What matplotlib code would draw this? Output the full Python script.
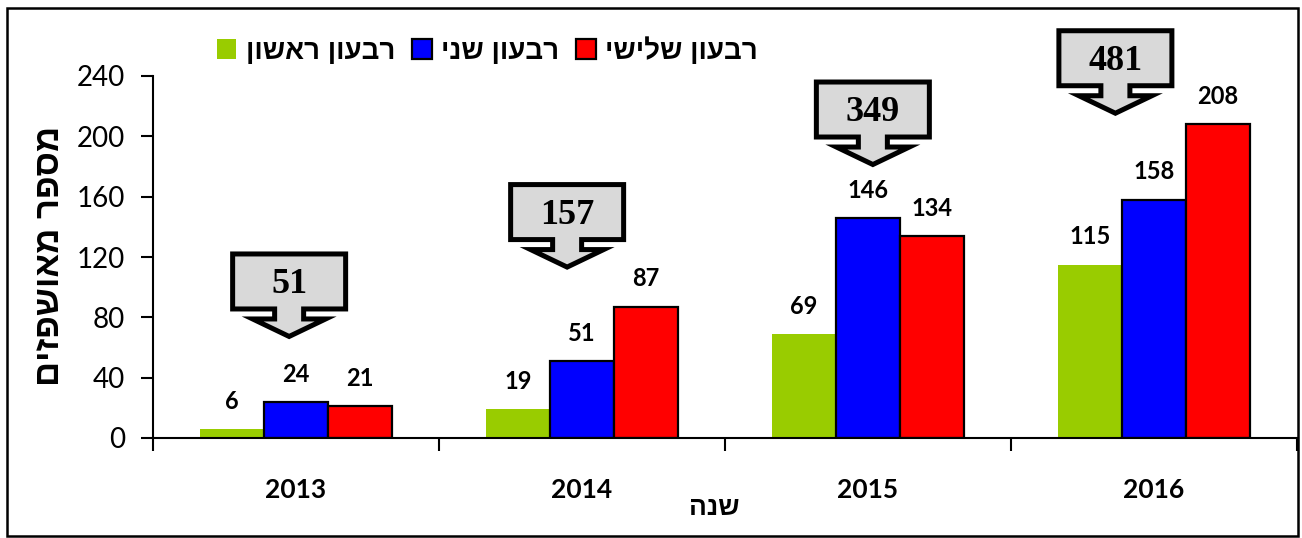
import matplotlib
matplotlib.use("Agg")
import matplotlib.pyplot as plt
from matplotlib.patches import Polygon, Rectangle
from matplotlib.transforms import Affine2D
import numpy as np

# ---------------- data ----------------
years = ["2013", "2014", "2015", "2016"]
series_names = ["רבעון ראשון", "רבעון שני", "רבעון שלישי"]
q1 = [6, 19, 69, 115]
q2 = [24, 51, 146, 158]
q3 = [21, 87, 134, 208]
y_ticks = [0, 40, 80, 120, 160, 200, 240]
y_title = "מספר מאושפזים"
x_title = "שנה"

# ---------------- style ----------------
colors = ["#99CC00", "#0000FF", "#FF0000"]
edges = ["none", "black", "black"]
callout_dx = [-0.024, -0.052, 0.017, -0.135]   # callout tip x offset (category units)
callout_y = [64, 110, 178, 212]                  # callout tip height (data units)

def heb(s):
    return s[::-1]

W, H = 1302, 538
DPI = 100
fig = plt.figure(figsize=(W / DPI, H / DPI), dpi=DPI)
fig.patch.set_facecolor("white")

ax_l, ax_r, ax_y0, ax_y1 = 153, 1297, 438, 76
ax = fig.add_axes([ax_l / W, (H - ax_y0) / H, (ax_r - ax_l) / W, (ax_y0 - ax_y1) / H])

x = np.arange(len(years))
bw = 0.224
series = [q1, q2, q3]
for i, vals in enumerate(series):
    ax.bar(x + (i - 1) * bw, vals, width=bw, color=colors[i],
           edgecolor=edges[i], linewidth=1.6, zorder=2,
           label=heb(series_names[i]))
    for xi, v in zip(x + (i - 1) * bw, vals):
        ax.annotate(str(v), (xi, v), xytext=(0, 20), textcoords="offset points",
                    ha="center", va="center", fontsize=17, fontweight="bold",
                    family="Lato", zorder=3)

ax.set_xlim(-0.5, len(years) - 0.5)
ax.set_ylim(0, 240)
ax.set_yticks(y_ticks)
ax.set_yticklabels([str(t) for t in y_ticks], family="Lato", fontsize=20)
ax.tick_params(axis="y", direction="out", length=9, width=1.5, pad=11, colors="black")

ax.set_xticks(x)
ax.set_xticklabels(years, family="Lato", fontsize=19, fontweight="bold")
ax.tick_params(axis="x", which="major", length=0, pad=29)
ax.set_xticks(np.arange(-0.5, len(years), 1.0), minor=True)
ax.tick_params(axis="x", which="minor", direction="out", length=9, width=1.5)

for s in ["top", "right"]:
    ax.spines[s].set_visible(False)
for s in ["left", "bottom"]:
    ax.spines[s].set_linewidth(1.5)
    ax.spines[s].set_color("black")

# legend
ax.legend(loc="center left", bbox_to_anchor=(217 / W, 1 - 51 / H),
          bbox_transform=fig.transFigure, ncol=3, frameon=False,
          prop={"family": "Liberation Sans", "weight": "bold", "size": 20},
          handlelength=0.7, handleheight=0.7, handletextpad=0.35,
          columnspacing=0.6, borderpad=0, borderaxespad=0)

# axis titles
fig.text(714 / W, 1 - 508 / H, heb(x_title), ha="center", va="center",
         family="Liberation Sans", fontweight="bold", fontsize=19)
fig.text(50 / W, 1 - 256 / H, heb(y_title), ha="center", va="center",
         rotation=90, family="Liberation Sans", fontweight="bold", fontsize=25)

# callouts with totals
fig.canvas.draw()
shape = [(0, 5), (36.5, 22.5), (14.5, 22.5), (14.5, 32.5), (56.5, 32.5),
         (56.5, 87.5), (-56.5, 87.5), (-56.5, 32.5), (-14.5, 32.5),
         (-14.5, 22.5), (-36.5, 22.5)]
totals = [a + b + c for a, b, c in zip(q1, q2, q3)]
for xi, dx, ty, tot in zip(x, callout_dx, callout_y, totals):
    px, py = ax.transData.transform((xi + dx, ty))
    tr = Affine2D().translate(px, py)
    poly = Polygon(shape, closed=True, facecolor="#D9D9D9", edgecolor="black",
                   linewidth=3.6, joinstyle="miter", transform=tr, zorder=5)
    fig.add_artist(poly)
    fig.text(px / W, (py + 57) / H, str(tot), ha="center", va="center",
             family="Liberation Serif", fontweight="bold", fontsize=26, zorder=6)

# outer frame
frame = Rectangle((6.5 / W, 2 / H), (1298 - 6.5) / W, 528 / H,
                  transform=fig.transFigure, fill=False, edgecolor="black",
                  linewidth=1.8, zorder=10)
fig.add_artist(frame)

fig.savefig("out.png", dpi=DPI)
